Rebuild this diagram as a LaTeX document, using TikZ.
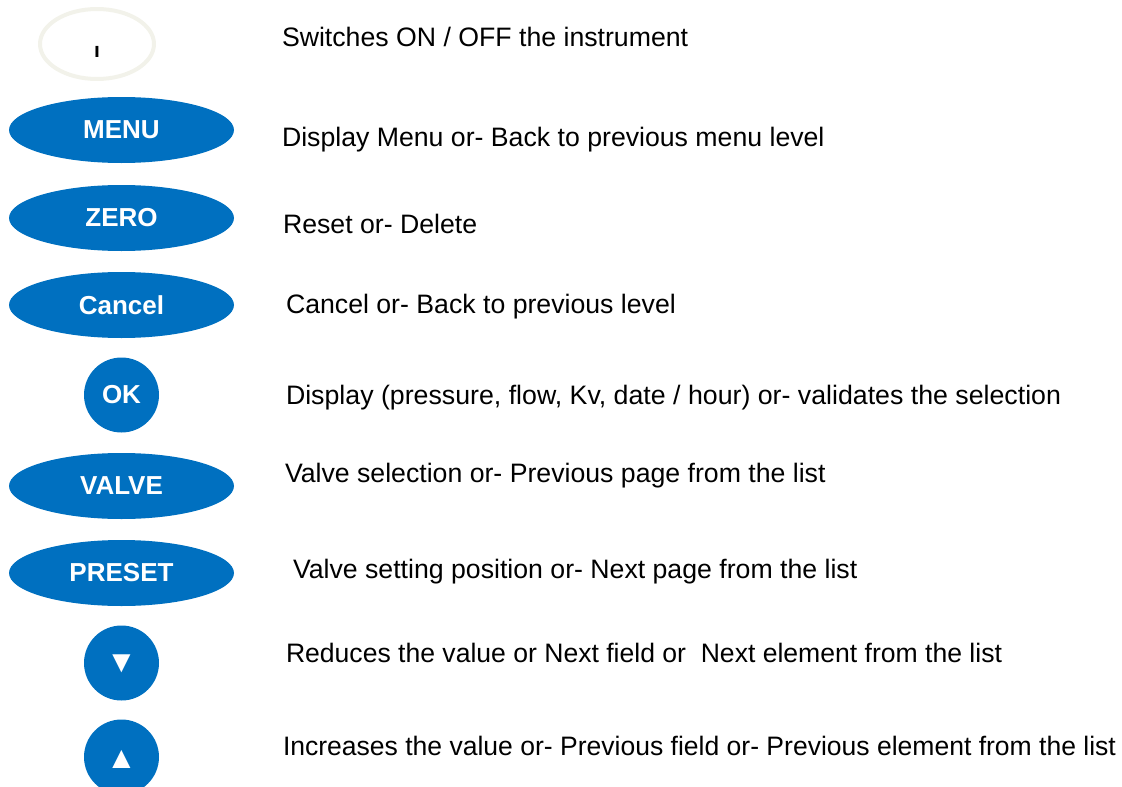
\documentclass[tikz,border=0pt]{standalone}
\usepackage{fontspec}
\setmainfont{Liberation Sans}
\usepackage{graphicx}
\usetikzlibrary{shapes,positioning}
\definecolor{keyblue}{RGB}{0,112,192}
\definecolor{ringgrey}{RGB}{242,242,234}

\begin{document}
\begin{tikzpicture}[% styles for the keys and their texts
			x=1pt,y=-1pt,
			every node/.style={
				inner sep=0pt,		% keep shapes at the given size
				outer sep=0pt
			},
			longkey/.style={ellipse,fill=keyblue,text=white,minimum width=225pt,minimum height=66pt,
				font=\fontsize{26}{30}\selectfont\bfseries},
			roundkey/.style={circle,fill=keyblue,text=white,minimum size=75pt,
				font=\fontsize{26}{30}\selectfont\bfseries},
			arrowmark/.style={text=white,font=\fontsize{31}{34}\selectfont},
			desc/.style={anchor=base west,font=\fontsize{26.67}{32}\selectfont}
		]
		\clip (0,0) rectangle (1122,787);
		% keys
		\node[ellipse,draw=ringgrey,line width=4pt,minimum width=114pt,minimum height=70pt](K1) at (97,44){};
		\node[font=\fontsize{21}{24}\selectfont\bfseries](K1m) at ([yshift=-7.5pt]K1.center){ı};
		\node[longkey](K2) at (121.5,130){MENU};
		\node[longkey](K3) at (121.5,218){ZERO};
		\node[longkey](K4) at (121.5,305){Cancel};
		\node[roundkey](K5) at (121.5,395){OK};
		\node[longkey](K6) at (121.5,486){VALVE};
		\node[longkey](K7) at (121.5,573){PRESET};
		\node[roundkey](K8) at (121.5,663){};
		\node[arrowmark](K8m) at ([yshift=-1pt]K8.center){▼};
		\node[roundkey](K9) at (121.5,757){};
		\node[arrowmark](K9m) at ([yshift=-2pt]K9.center){▲};
		% what each key does
		\node[desc](D1) at (282,46){Switches ON / OFF the instrument};
		\node[desc](D2) at (282,146){Display Menu or- Back to previous menu level};
		\node[desc](D3) at (283,233){Reset or- Delete};
		\node[desc](D4) at (286,313){Cancel or- Back to previous level};
		\node[desc](D5) at (286,404){\resizebox{775pt}{\height}{Display (pressure, flow, Kv, date / hour) or- validates the selection}};
		\node[desc](D6) at (285,482){Valve selection or- Previous page from the list};
		\node[desc](D7) at (293,578){Valve setting position or- Next page from the list};
		\node[desc](D8) at (286,662){\resizebox{716pt}{\height}{Reduces the value or Next field or\ \ Next element from the list}};
		\node[desc](D9) at (283,755){\resizebox{833pt}{\height}{Increases the value or- Previous field or- Previous element from the list}};
	\end{tikzpicture}
\end{document}
